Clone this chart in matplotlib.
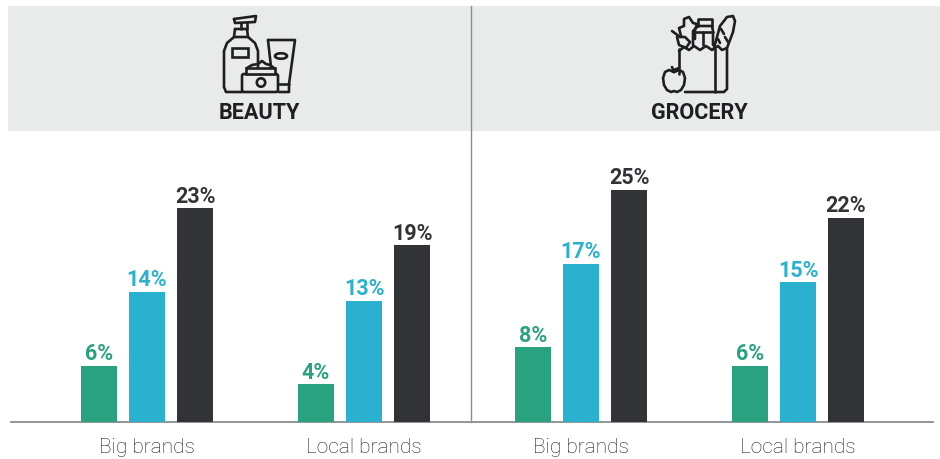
import matplotlib
matplotlib.use('Agg')
import matplotlib.pyplot as plt
from matplotlib.patches import Rectangle, Circle, Ellipse, FancyBboxPatch

plt.rcParams['font.family'] = ['Roboto', 'DejaVu Sans']

groups = ['Big brands', 'Local brands', 'Big brands', 'Local brands']
low_values = [6, 4, 8, 6]
mid_values = [14, 13, 17, 15]
high_values = [23, 19, 25, 22]
sections = ['BEAUTY', 'GROCERY']

GREEN = '#29a27f'
BLUE = '#2ab1cf'
DARK = '#323337'
GREY = '#e9eaea'
INK = '#1f1f21'
LW = 1.9

W, H = 940, 460
fig = plt.figure(figsize=(W / 100, H / 100), dpi=100)

# pixel overlay for header band and icons
top = fig.add_axes([0, 0, 1, 1], zorder=1)
top.set_xlim(0, W)
top.set_ylim(H, 0)
top.axis('off')

# bars live on a percent scale, zero on the baseline
PX_PER_PCT = 9.27
BASE_Y = 422.5
ax = fig.add_axes([0, 0, 1, 1], zorder=2)
ax.patch.set_alpha(0)
ax.set_xlim(0, W)
ax.set_ylim(-(H - BASE_Y) / PX_PER_PCT, BASE_Y / PX_PER_PCT)
ax.axis('off')

top.add_patch(Rectangle((8, 7), 932, 124.5, color=GREY, lw=0))
top.plot([471, 471], [7, BASE_Y], color='#8c8c8c', lw=1.0)
top.plot([11, 933], [BASE_Y, BASE_Y], color='#8c8c8c', lw=1.3)

group_left = [81, 298, 515, 732]
bar_w = 36
step = 48
for i, name in enumerate(groups):
    x0 = group_left[i]
    for j, (vals, col) in enumerate([(low_values, GREEN), (mid_values, BLUE), (high_values, DARK)]):
        v = vals[i]
        ax.bar(x0 + j * step, v, width=bar_w, align='edge', color=col, lw=0)
        ax.annotate(f'{v}%', (x0 + j * step + bar_w / 2, v), xytext=(0, 1.2),
                    textcoords='offset points', ha='center', va='bottom',
                    color=col, fontsize=15.5, fontweight='bold')
    ax.text(x0 + step + bar_w / 2, -(448 - BASE_Y) / PX_PER_PCT, name, ha='center', va='center',
            color='#1f1f21', fontsize=15, fontweight='light')

top.text(259, 113, sections[0], ha='center', va='center', color=INK, fontsize=15.6, fontweight='bold')
top.text(699, 113, sections[1], ha='center', va='center', color=INK, fontsize=15.6, fontweight='bold')


def line(xs, ys, lw=LW):
    top.plot(xs, ys, color=INK, lw=lw, solid_capstyle='round', solid_joinstyle='round', zorder=5)


def draw_beauty():
    # pump bottle
    line([234, 256, 255, 235, 234], [20, 17, 23, 24, 20])
    line([241, 241], [24, 30])
    line([247, 247], [24, 30])
    line([235, 247, 248, 234, 235], [30, 30, 38, 38, 30])
    line([234, 227, 224, 224, 226, 242], [38, 44, 52, 88, 93, 93])
    line([248, 255, 258, 258], [38, 44, 52, 68])
    top.add_patch(Rectangle((232, 49), 16, 9, fill=False, ec=INK, lw=LW, zorder=5))
    # tube
    line([268, 295, 289, 289, 279], [41, 41, 85, 93, 93])
    line([268, 271], [41, 68])
    line([279, 289], [85, 85])
    top.add_patch(Ellipse((281, 57), 12, 5.5, fill=False, ec=INK, lw=LW, zorder=5))
    # jar
    top.add_patch(FancyBboxPatch((242, 75), 36, 18, boxstyle='round,pad=0,rounding_size=2',
                                 fc=GREY, ec=INK, lw=LW, zorder=6))
    top.add_patch(Rectangle((246, 69), 29, 6, fc=GREY, ec=INK, lw=LW, zorder=6))
    top.plot([247, 252, 258, 262, 266, 270, 274], [69, 66, 65, 62, 65, 66, 69],
             color=INK, lw=LW, zorder=6)
    top.add_patch(Circle((261, 83.5), 4.2, fill=False, ec=INK, lw=LW, zorder=7))


def draw_grocery():
    # bag
    line([679, 679], [50, 75])
    line([685, 724, 727, 727], [93, 93, 90, 50])
    line([715, 715], [50, 93])
    line([679, 684, 689, 694, 700, 706, 712, 718, 722, 727],
         [52, 48, 51, 47, 51, 47, 51, 47, 51, 49])
    # apple
    line([674, 669, 665, 663, 664, 667, 671, 674, 677, 681, 684, 685, 683, 679, 674],
         [73, 71, 73, 79, 86, 91, 93, 92, 93, 91, 86, 79, 73, 71, 73])
    line([674, 672], [73, 68])
    line([674, 679], [71, 69])
    # carrot and leaves
    line([672, 680], [32, 38])
    line([677, 679, 686, 690, 685, 680], [38, 46, 49, 43, 38, 38])
    line([681, 679, 684, 684, 689, 693, 697, 695, 695],
         [37, 29, 27, 20, 18, 24, 25, 31, 40])
    # milk carton
    line([693, 693, 698, 712, 713, 713], [46, 32, 27, 27, 32, 46])
    line([698, 698, 712, 712], [27, 20, 20, 27])
    line([693, 713], [33, 33])
    line([703, 703], [33, 46])
    # baguette
    line([714, 720, 727, 733, 735, 733, 727],
         [49, 27, 18, 17, 22, 33, 49])
    line([721, 724], [30, 35])
    line([725, 728], [38, 43])
    line([718, 720], [40, 44])


draw_beauty()
draw_grocery()

fig.savefig('out.png', dpi=100)
